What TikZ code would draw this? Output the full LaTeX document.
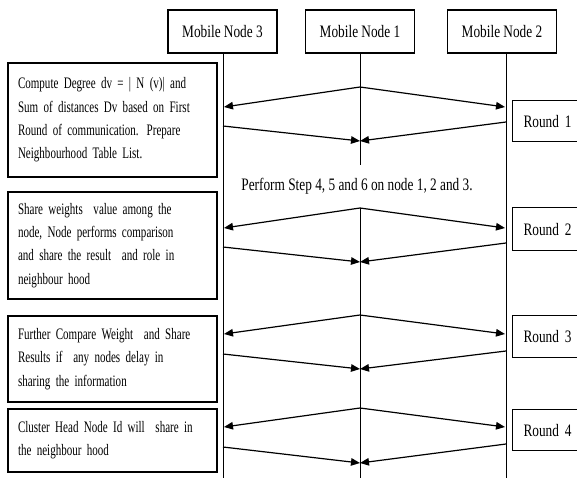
\documentclass[tikz,border=0pt]{standalone}
\usepackage{fontspec}
\setmainfont{Liberation Serif}[FakeStretch=0.76]
\newfontfamily\boxfam{Liberation Serif}[FakeStretch=0.69]
\usetikzlibrary{arrows.meta}
\protected\def\myboxfont{\boxfam\fontsize{16}{23.3}\selectfont}
\protected\def\myroundfont{\fontsize{17.5}{23.3}\selectfont\spaceskip=3pt\relax}
\begin{document}
\begin{tikzpicture}[x=1pt,y=-1pt,
  every node/.style={font=\fontsize{17.5}{23.3}\selectfont},
  hdr/.style={draw,line width=1.1pt,minimum width=109pt,minimum height=43pt,inner sep=0pt},
  lbox/.style={draw,line width=1.1pt,text width=189pt,inner xsep=10pt,inner ysep=0pt,align=left,font=\myboxfont},
  rbox/.style={draw,line width=1.1pt,anchor=north west,minimum width=90pt,text width=68pt,inner xsep=11pt,align=left,font=\myroundfont},
  life/.style={line width=0.8pt},
  msg/.style={line width=1.2pt,-{Triangle[length=9pt,width=7.5pt]}}
]
\useasboundingbox (0,0) rectangle (577,478);
\clip (0,0) rectangle (577,478);

% header nodes
\node[hdr] (m3) at (222.5,31.5) {Mobile Node 3};
\node[hdr] (m1) at (360,31.5) {Mobile Node 1};
\node[hdr] (m2) at (502,31.5) {Mobile Node 2};

% lifeline ends
\coordinate (l3end) at (223,478);
\coordinate (l2end) at (506,478);
\coordinate (l1a) at (360,165);
\coordinate (l1b) at (360,478);
\coordinate (m3f) at (223,53);
\coordinate (m2f) at (506,53);

\draw[life] (m3f) -- (l3end);
\draw[life] (m2f) -- (l2end);
\draw[life] (m1.south) -- (l1a);

% left boxes
\node[lbox,minimum height=114pt] (b1) at (112.5,120) {Compute Degree dv = | N (v)| and\\Sum of distances Dv based on First\\Round of communication. Prepare\\Neighbourhood Table List.};
\node[lbox,minimum height=107pt] (b2) at (112.5,245.5) {Share weights\ \ value among the\\node, Node performs comparison\\and share the result\ \ and role in\\neighbour hood};
\node[lbox,minimum height=86pt] (b3) at (112.5,359) {Further Compare Weight\ \ and Share\\Results if\ \ any nodes delay in\\sharing the information};
\node[lbox,minimum height=63pt] (b4) at (112.5,440.5) {Cluster Head Node Id will\ \ share in\\the neighbour hood};

% round boxes
\node[rbox,minimum height=41pt] (r1) at (512,100) {Round 1};
\node[rbox,minimum height=43pt] (r2) at (512,207) {Round 2};
\node[rbox,minimum height=42pt] (r3) at (512,315) {Round 3};
\node[rbox,minimum height=41pt] (r4) at (512,409) {Round 4};

% middle text
\node (perform) at (357,186) {Perform Step 4, 5 and 6 on node 1, 2 and 3.};

% round 2 starts the lower part of node 1 lifeline
\coordinate (a2) at (360,208);
\draw[life] (a2) -- (l1b);

% messages: apex, left tip, right tip, left start, right start, meet
\foreach \n/\ya/\yt/\yl/\yr/\ym in {1/87/107/126/122/141, 2/208/228/247/243/262, 3/315/334/354/351/369, 4/408/427/447/444/463}{
  \coordinate (ap\n) at (360,\ya);
  \coordinate (lt\n) at (224,\yt);
  \coordinate (rt\n) at (505,\yt);
  \coordinate (ls\n) at (223,\yl);
  \coordinate (rs\n) at (506,\yr);
  \coordinate (mt\n) at (360,\ym);
  \draw[msg] (ap\n) -- (lt\n);
  \draw[msg] (ap\n) -- (rt\n);
  \draw[msg] (ls\n) -- (mt\n);
  \draw[msg] (rs\n) -- (mt\n);
}
\end{tikzpicture}
\end{document}
